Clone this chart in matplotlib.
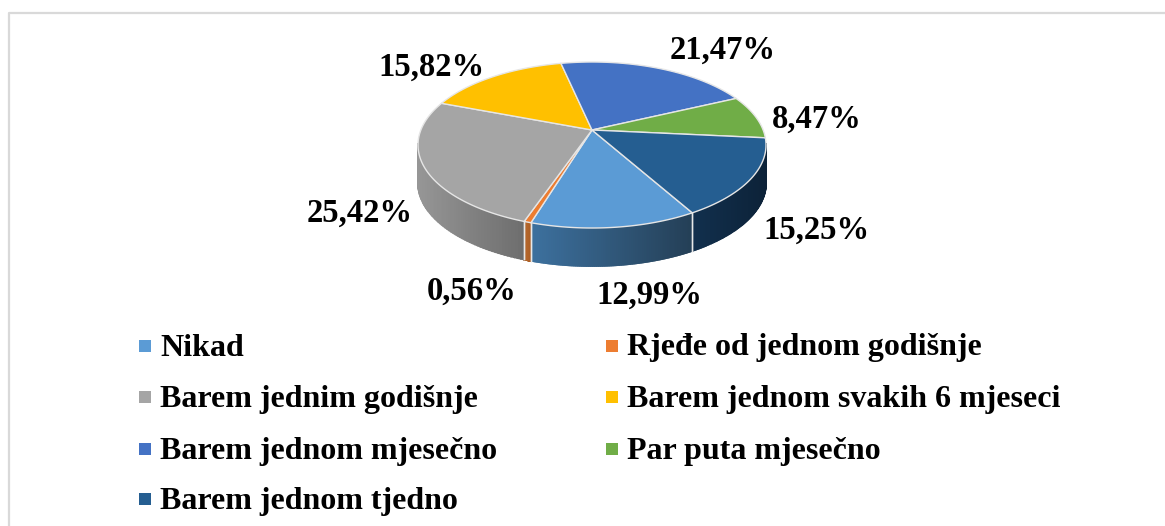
#plot.py
import numpy as np
import matplotlib
matplotlib.use("Agg")
import matplotlib.pyplot as plt
from matplotlib.colors import to_rgb

categories = ["Nikad", "Rjeđe od jednom godišnje", "Barem jednim godišnje",
              "Barem jednom svakih 6 mjeseci", "Barem jednom mjesečno",
              "Par puta mjesečno", "Barem jednom tjedno"]
values = [12.99, 0.56, 25.42, 15.82, 21.47, 8.47, 15.25]
value_labels = ["12,99%", "0,56%", "25,42%", "15,82%", "21,47%", "8,47%", "15,25%"]
colors = ["#5b9bd5", "#ed7d31", "#a5a5a5", "#ffc000", "#4472c4", "#70ad47", "#255e91"]

# wall shading, left end and right end of the visible wall
wall_left = ["#3d719f", "#b8682c", "#969696", "#ffc000", "#4472c4", "#70ad47", "#12304e"]
wall_right = ["#243f56", "#a85c24", "#6e6e6e", "#ffc000", "#4472c4", "#70ad47", "#0c2238"]

label_pos = [(649, 295), (472, 291), (360, 213), (431, 67), (723, 50), (817, 119), (816, 230)]
legend_pos = [(145, 346), (612, 346), (145, 397), (612, 397), (145, 449), (612, 449), (145, 499)]

# pie geometry in pixels
cx, cy = 592, 145
rx, ry = 174, 83
apex_y = 130
depth = 38
start_phi = -54.8  # rim angle where first slice starts


def persp(theta):
    # rim angle on the ellipse for a true angle, apex sits above the ellipse centre
    c = (cy - apex_y) / ry
    a = c / (1 + np.sqrt(1 - c**2))
    b = 1j * a
    z = np.exp(1j * theta)
    return np.angle((z + b) / (1 + np.conj(b) * z))


def persp_inv(phi):
    c = (cy - apex_y) / ry
    a = c / (1 + np.sqrt(1 - c**2))
    b = 1j * a
    w = np.exp(1j * phi)
    return np.angle((w - b) / (1 - np.conj(b) * w))


def rim(phi, dy=0.0):
    return cx + rx * np.cos(phi), cy - ry * np.sin(phi) + dy


def main():
    plt.rcParams['font.family'] = ['Liberation Serif', 'DejaVu Serif']
    fig = plt.figure(figsize=(11.65, 5.26), dpi=100)
    ax = fig.add_axes([0, 0, 1, 1])
    ax.set_xlim(0, 1165)
    ax.set_ylim(526, 0)
    ax.axis("off")

    # chart frame, open on the right and at the bottom
    ax.plot([9, 9, 1165], [526, 13, 13], color="#d9d9d9", lw=1.6, solid_capstyle="butt")

    theta0 = persp_inv(np.radians(start_phi))
    fracs = np.array(values) / sum(values)
    edges = theta0 - np.concatenate([[0], np.cumsum(fracs)]) * 2 * np.pi

    # side walls (front half only), shaded left to right
    for i in range(len(values)):
        th = np.linspace(edges[i], edges[i + 1], 90)
        phi = np.unwrap(persp(th))
        x, y = rim(phi)
        vis = np.sin(phi) <= 0.03
        if vis.sum() < 2:
            continue
        x, y = x[vis], y[vis]
        x0, x1 = x.min(), x.max()
        c0, c1 = np.array(to_rgb(wall_left[i])), np.array(to_rgb(wall_right[i]))
        for j in range(len(x) - 1):
            t = (x[j] - x0) / max(x1 - x0, 1)
            ax.fill([x[j], x[j + 1], x[j + 1], x[j]],
                    [y[j], y[j + 1], y[j + 1] + depth, y[j] + depth],
                    color=c0 + (c1 - c0) * t, lw=1.3, zorder=2)
        # light seam between slices, not at the silhouette
        for k in [0, -1]:
            if np.min(np.abs(x[k] - np.array([cx - rx, cx + rx]))) > 8:
                ax.plot([x[k], x[k]], [y[k], y[k] + depth], color="#e8e8e8", lw=1.0, zorder=3)

    # top face
    for i in range(len(values)):
        th = np.linspace(edges[i], edges[i + 1], 120)
        x, y = rim(np.unwrap(persp(th)))
        ax.fill(np.r_[cx, x], np.r_[apex_y, y], facecolor=colors[i],
                edgecolor="#e6e6e6", lw=1.0, zorder=4)

    for (lx, ly), s in zip(label_pos, value_labels):
        ax.text(lx, ly, s, fontsize=23.5, fontweight="bold", ha="center", va="center",
                color="black", zorder=5)

    for (lx, ly), name, col in zip(legend_pos, categories, colors):
        ax.plot(lx, ly, marker="s", ms=8, color=col, mew=0, ls="none")
        ax.text(lx + 15, ly + 2, name, fontsize=23, fontweight="bold", ha="left",
                va="center", color="black")

    fig.savefig("out.png", dpi=100)


if __name__ == '__main__':
    main()
